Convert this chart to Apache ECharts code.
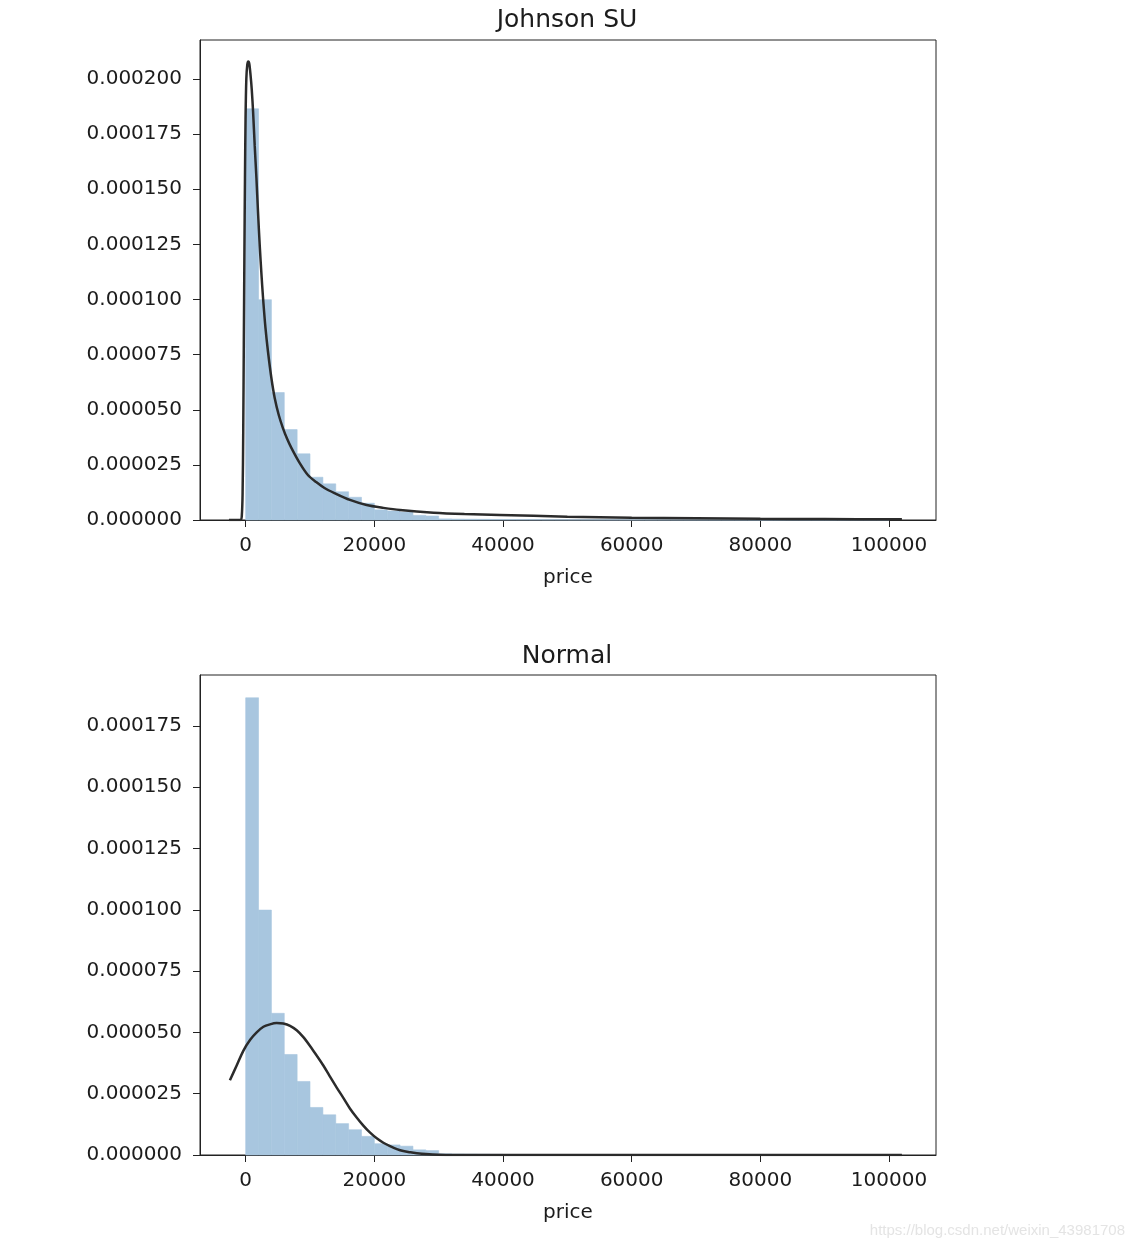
<!DOCTYPE html>
<html>
<head>
<meta charset="utf-8">
<title>price distribution</title>
<script src="https://cdn.jsdelivr.net/npm/echarts@6/dist/echarts.min.js"></script>
<style>
  html, body { margin: 0; padding: 0; background: #fff; }
  #chart { width: 1134px; height: 1252px; }
</style>
</head>
<body>
<div id="chart"></div>
<script>
// histogram of price (density), 50 bins of ~2000
const binEdges = [0, 2000, 4000, 6000, 8000, 10000, 12000, 14000, 16000, 18000,
  20000, 22000, 24000, 26000, 28000, 30000, 32000, 34000, 36000, 38000,
  40000, 42000, 44000, 46000, 48000, 50000, 52000, 54000, 56000, 58000,
  60000, 62000, 64000, 66000, 68000, 70000, 72000, 74000, 76000, 78000,
  80000, 82000, 84000, 86000, 88000, 90000, 92000, 94000, 96000, 98000, 100000]
const binHeights = [186.5e-6, 99.9e-6, 57.8e-6, 41.0e-6, 30.0e-6, 19.4e-6, 16.4e-6, 12.8e-6, 10.3e-6, 7.6e-6,
  4.6e-6, 4.1e-6, 3.6e-6, 2.1e-6, 1.8e-6, 0.5e-6, 0.4e-6, 0.35e-6, 0.3e-6, 0.25e-6,
  0.2e-6, 0.18e-6, 0.15e-6, 0.12e-6, 0.1e-6, 0.09e-6, 0.08e-6, 0.07e-6, 0.06e-6, 0.05e-6,
  0.05e-6, 0.04e-6, 0.04e-6, 0.04e-6, 0.03e-6, 0.03e-6, 0.03e-6, 0.03e-6, 0.03e-6, 0.02e-6,
  0.02e-6, 0.02e-6, 0.02e-6, 0.02e-6, 0.02e-6, 0.02e-6, 0.02e-6, 0.02e-6, 0.02e-6, 0.02e-6]

// fitted Johnson SU curve
const jsuX = [-2600, -1500, -760, -600, -480, -380, -290, -200, -110, -20,
  100, 250, 400, 560, 750, 950, 1150, 1400, 1670, 1920,
  2180, 2440, 2700, 3080, 3470, 3990, 4510, 5150, 5790, 6440,
  7100, 8380, 9670, 10960, 12250, 13800, 16200, 18800, 21400, 24000,
  29200, 34000, 39500, 50000, 60000, 70000, 80000, 90000, 102000]
const jsuY = [0, 0, 0, 2e-6, 12e-6, 40e-6, 80e-6, 120e-6, 155e-6, 182e-6,
  200e-6, 206.5e-6, 208e-6, 207e-6, 202e-6, 195e-6, 185.2e-6, 170e-6, 155.1e-6, 139.5e-6,
  124.7e-6, 112e-6, 100.7e-6, 87e-6, 76.3e-6, 64.5e-6, 55.3e-6, 47.5e-6, 41.7e-6, 36.8e-6,
  32.7e-6, 25.9e-6, 20.4e-6, 17.2e-6, 14.5e-6, 12.2e-6, 9.1e-6, 6.8e-6, 5.5e-6, 4.5e-6,
  3.3e-6, 2.7e-6, 2.3e-6, 1.5e-6, 1.0e-6, 0.75e-6, 0.55e-6, 0.42e-6, 0.3e-6]

// fitted normal curve
const normX = [-2450, -1400, -370, 700, 1710, 2750, 3780, 4800, 5850, 6900,
  7930, 9000, 10000, 11000, 12070, 13100, 14150, 15200, 16200, 17250,
  18290, 19300, 20370, 21400, 22440, 23500, 24500, 25600, 26600, 28000,
  30000, 35000, 40000, 50000, 60000, 80000, 102000]
const normY = [30.5e-6, 36.5e-6, 42.5e-6, 47e-6, 50e-6, 52.3e-6, 53.3e-6, 53.8e-6, 53.6e-6, 52.7e-6,
  50.9e-6, 48e-6, 44.5e-6, 40.7e-6, 36.5e-6, 32e-6, 27.5e-6, 23.2e-6, 19e-6, 15.3e-6,
  12e-6, 9.2e-6, 6.8e-6, 5e-6, 3.6e-6, 2.4e-6, 1.6e-6, 1.1e-6, 0.75e-6, 0.4e-6,
  0.15e-6, 0.01e-6, 0, 0, 0, 0, 0]

const xTicks = [0, 20000, 40000, 60000, 80000, 100000]
const yTicksTop = [0, 0.000025, 0.00005, 0.000075, 0.0001, 0.000125, 0.00015, 0.000175, 0.0002]
const yTicksBottom = [0, 0.000025, 0.00005, 0.000075, 0.0001, 0.000125, 0.00015, 0.000175]

const barColor = '#a8c6df'
const lineColor = '#2b2b2b'
const textColor = '#1c1c1c'
const font = 'DejaVu Sans'

const histData = binHeights.map((h, i) => [binEdges[i], binEdges[i + 1], h])
const jsuData = jsuX.map((x, i) => [x, jsuY[i]])
const normData = normX.map((x, i) => [x, normY[i]])

function renderBin(params, api) {
  const p0 = api.coord([api.value(0), api.value(2)])
  const p1 = api.coord([api.value(1), 0])
  return {
    type: 'rect',
    shape: { x: p0[0], y: p0[1], width: p1[0] - p0[0], height: p1[1] - p0[1] },
    style: { fill: barColor, stroke: barColor, lineWidth: 0.6 }
  }
}

function xAxis(idx) {
  return {
    type: 'value',
    gridIndex: idx,
    min: -7100,
    max: 107300,
    name: 'price',
    nameLocation: 'middle',
    nameGap: 48,
    nameTextStyle: { fontSize: 20, color: textColor, fontFamily: font },
    splitLine: { show: false },
    axisLine: { show: true, onZero: false, lineStyle: { color: '#222', width: 1 } },
    axisTick: { show: true, length: 7, lineStyle: { color: '#222' }, customValues: xTicks },
    axisLabel: {
      fontSize: 20, color: textColor, fontFamily: font, margin: 16,
      customValues: xTicks,
      formatter: v => String(v)
    }
  }
}

function yAxis(idx, max, ticks) {
  return {
    type: 'value',
    gridIndex: idx,
    min: 0,
    max: max,
    splitLine: { show: false },
    axisLine: { show: true, onZero: false, lineStyle: { color: '#222', width: 1 } },
    axisTick: { show: true, length: 7, lineStyle: { color: '#222' }, customValues: ticks },
    axisLabel: {
      fontSize: 20, color: textColor, fontFamily: font, margin: 18,
      customValues: ticks,
      formatter: v => v.toFixed(6)
    }
  }
}

const chart = echarts.init(document.getElementById('chart'), null, { renderer: 'canvas' })
chart.setOption({
  animation: false,
  backgroundColor: '#fff',
  title: [
    {
      text: 'Johnson SU', left: 567, top: 5, textAlign: 'center', padding: 0,
      textStyle: { fontSize: 25, fontWeight: 'normal', color: textColor, fontFamily: font, lineHeight: 30 }
    },
    {
      text: 'Normal', left: 567, top: 641, textAlign: 'center', padding: 0,
      textStyle: { fontSize: 25, fontWeight: 'normal', color: textColor, fontFamily: font, lineHeight: 30 }
    }
  ],
  grid: [
    { left: 200, top: 40, width: 736, height: 480, show: true, borderColor: '#222', borderWidth: 1 },
    { left: 200, top: 675, width: 736, height: 480, show: true, borderColor: '#222', borderWidth: 1 }
  ],
  xAxis: [xAxis(0), xAxis(1)],
  yAxis: [yAxis(0, 0.0002177, yTicksTop), yAxis(1, 0.0001958, yTicksBottom)],
  graphic: [
    {
      type: 'text', right: 9, top: 1223,
      style: { text: 'https://blog.csdn.net/weixin_43981708', fontSize: 15, fontFamily: 'Liberation Sans', fill: '#e4e4e4' }
    }
  ],
  series: [
    {
      type: 'custom', xAxisIndex: 0, yAxisIndex: 0,
      renderItem: renderBin, encode: { x: [0, 1], y: 2 }, data: histData
    },
    {
      type: 'line', xAxisIndex: 0, yAxisIndex: 0, data: jsuData,
      showSymbol: false, smooth: 0.3, z: 5,
      lineStyle: { color: lineColor, width: 2.5 }
    },
    {
      type: 'custom', xAxisIndex: 1, yAxisIndex: 1,
      renderItem: renderBin, encode: { x: [0, 1], y: 2 }, data: histData
    },
    {
      type: 'line', xAxisIndex: 1, yAxisIndex: 1, data: normData,
      showSymbol: false, smooth: 0.3, z: 5,
      lineStyle: { color: lineColor, width: 2.5 }
    }
  ]
})
</script>
</body>
</html>
